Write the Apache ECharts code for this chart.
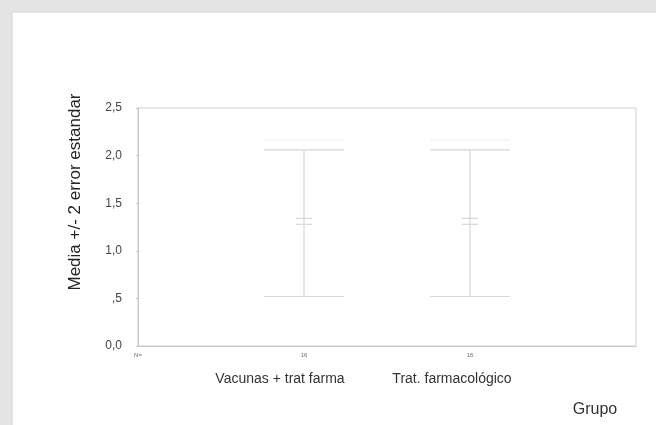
<!DOCTYPE html>
<html><head><meta charset="utf-8">
<script src="https://cdn.jsdelivr.net/npm/echarts@6/dist/echarts.min.js"></script>
<style>html,body{margin:0;padding:0;background:#fff}#c{width:656px;height:425px}</style>
</head><body><div id="c"></div>
<script>
const categories = ["Vacunas + trat farma", "Trat. farmacológico"];
const nLabels = ["N=", "16", "16"];
const means = [1.31, 1.31];
const lower = [0.52, 0.52];
const upper = [2.06, 2.06];
const yTickLabels = {"0": "0,0", "0.5": ",5", "1": "1,0", "1.5": "1,5", "2": "2,0", "2.5": "2,5"};

const chart = echarts.init(document.getElementById('c'), null, {renderer: 'canvas'});
const F = '"Liberation Sans", Arial, sans-serif';
const lc = '#d6d6d6';

const data = categories.map((c, i) => [i + 1, lower[i], upper[i], means[i]]);

chart.setOption({
  animation: false,
  backgroundColor: '#fff',
  grid: {left: 138, right: 20, top: 108, bottom: 79, show: true, borderColor: '#d0d0d0', borderWidth: 1},
  xAxis: {
    type: 'value', min: 0, max: 3, interval: 1,
    axisLine: {show: true, lineStyle: {color: '#c8c8c8'}},
    axisTick: {show: false},
    splitLine: {show: false},
    axisLabel: {
      showMaxLabel: false, fontSize: 6, color: '#666', fontFamily: F, margin: 6,
      formatter: v => nLabels[v] || ''
    }
  },
  yAxis: {
    type: 'value', min: 0, max: 2.5, interval: 0.5,
    axisLine: {show: true, lineStyle: {color: '#c8c8c8'}},
    axisTick: {show: true, length: 2, lineStyle: {color: '#c8c8c8'}},
    splitLine: {show: false},
    axisLabel: {fontSize: 12, color: '#444', fontFamily: F, margin: 16,
      formatter: v => yTickLabels[String(v)] || ''}
  },
  series: [{
    type: 'custom',
    data: data,
    renderItem: function (params, api) {
      const x = api.value(0);
      const lo = api.coord([x, api.value(1)]);
      const hi = api.coord([x, api.value(2)]);
      const m = api.coord([x, api.value(3)]);
      const hw = 40;
      const st = {stroke: lc, lineWidth: 1.2};
      const faint = {stroke: '#efefef', lineWidth: 1};
      return {
        type: 'group',
        children: [
          {type: 'line', shape: {x1: hi[0], y1: hi[1], x2: lo[0], y2: lo[1]}, style: st},
          {type: 'line', shape: {x1: hi[0] - hw, y1: hi[1], x2: hi[0] + hw, y2: hi[1]}, style: st},
          {type: 'line', shape: {x1: lo[0] - hw, y1: lo[1], x2: lo[0] + hw, y2: lo[1]}, style: st},
          {type: 'line', shape: {x1: hi[0] - hw, y1: hi[1] - 10, x2: hi[0] + hw, y2: hi[1] - 10}, style: faint},
          {type: 'line', shape: {x1: m[0] - 8, y1: m[1] - 3, x2: m[0] + 8, y2: m[1] - 3}, style: st},
          {type: 'line', shape: {x1: m[0] - 8, y1: m[1] + 3, x2: m[0] + 8, y2: m[1] + 3}, style: st}
        ]
      };
    }
  }]
});

function px(v) { return chart.convertToPixel({xAxisIndex: 0}, v); }
const catOffsets = [-24, -18];
chart.setOption({
  graphic: [
    {type: 'rect', shape: {x: 0, y: 0, width: 656, height: 12}, style: {fill: '#e4e4e4'}, silent: true},
    {type: 'rect', shape: {x: 0, y: 0, width: 12, height: 425}, style: {fill: '#e4e4e4'}, silent: true},
    {type: 'line', shape: {x1: 12, y1: 12, x2: 656, y2: 12}, style: {stroke: '#d4d4d4', lineWidth: 1}},
    {type: 'line', shape: {x1: 12, y1: 12, x2: 12, y2: 425}, style: {stroke: '#d4d4d4', lineWidth: 1}},
    ...categories.map((c, i) => ({
      type: 'text', x: px(i + 1) + catOffsets[i], y: 379,
      style: {text: c, fontSize: 14, fontFamily: F, fill: '#333', textAlign: 'center', textVerticalAlign: 'middle'}
    })),
    {type: 'text', x: 75, y: 192, rotation: Math.PI / 2,
      style: {text: 'Media +/- 2 error estandar', fontSize: 17, fontFamily: F, fill: '#222', textAlign: 'center', textVerticalAlign: 'middle'}},
    {type: 'text', x: 595, y: 410,
      style: {text: 'Grupo', fontSize: 16, fontFamily: F, fill: '#333', textAlign: 'center', textVerticalAlign: 'middle'}}
  ]
});
</script></body></html>
